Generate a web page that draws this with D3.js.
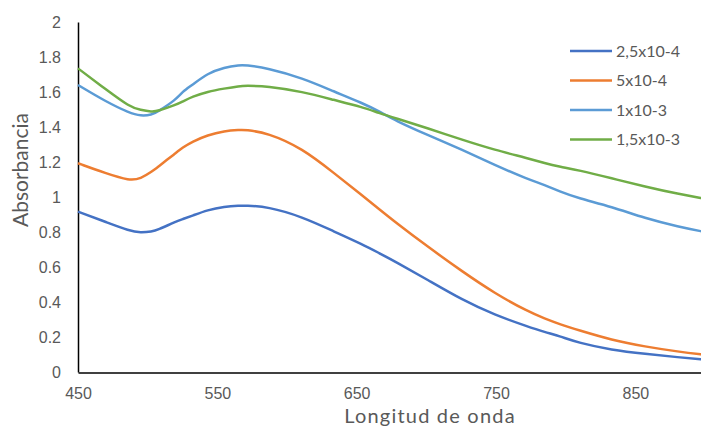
<!DOCTYPE html>
<html>
<head>
<meta charset="utf-8">
<script src="https://cdn.jsdelivr.net/npm/d3@7"></script>
<style>
    body { margin: 0; background: #fff; }
    svg { display: block; font-family: Lato, "Open Sans", sans-serif; }
    .tick text { fill: #595959; font-size: 16px; }
    .legendText { fill: #595959; font-size: 16px; }
    .axisTitle { fill: #595959; }
</style>
</head>
<body>
<svg id="chart" width="701" height="428"></svg>
<script>

// longitud de onda (nm)
const wavelengths = [450, 470, 487, 495, 503, 507, 520, 525, 532, 543, 555, 566, 570, 586, 611,
    634, 654, 666, 678, 701, 726, 749, 773, 785, 796, 809, 833, 857, 881, 900];

// absorbancia para cada concentracion
const abs25e5 = [0.916, 0.857, 0.806, 0.796, 0.803, 0.811, 0.859, 0.873, 0.893, 0.926, 0.945, 0.951, 0.951, 0.945, 0.887,
    0.802, 0.730, 0.680, 0.630, 0.526, 0.411, 0.326, 0.259, 0.228, 0.204, 0.167, 0.126, 0.103, 0.084, 0.071];
const abs5e4 = [1.193, 1.135, 1.093, 1.105, 1.145, 1.170, 1.250, 1.282, 1.316, 1.354, 1.377, 1.383, 1.384, 1.367, 1.278,
    1.135, 1.009, 0.932, 0.855, 0.716, 0.573, 0.450, 0.345, 0.305, 0.272, 0.240, 0.183, 0.145, 0.116, 0.098];
const abs1e3 = [1.640, 1.545, 1.480, 1.463, 1.470, 1.487, 1.554, 1.602, 1.640, 1.707, 1.741, 1.754, 1.754, 1.737, 1.680,
    1.602, 1.537, 1.490, 1.436, 1.354, 1.269, 1.183, 1.101, 1.069, 1.030, 0.993, 0.945, 0.878, 0.830, 0.800];
const abs15e3 = [1.735, 1.615, 1.515, 1.497, 1.487, 1.490, 1.526, 1.545, 1.573, 1.602, 1.620, 1.634, 1.636, 1.634, 1.602,
    1.554, 1.514, 1.480, 1.450, 1.393, 1.326, 1.269, 1.221, 1.193, 1.173, 1.154, 1.107, 1.059, 1.017, 0.990];

const seriesNames = ["2,5x10-4", "5x10-4", "1x10-3", "1,5x10-3"];
const seriesValues = [abs25e5, abs5e4, abs1e3, abs15e3];
const colors = ["#4472C4", "#ED7D31", "#5B9BD5", "#70AD47"];

const xTicks = [450, 550, 650, 750, 850];
const yTicks = [0, 0.2, 0.4, 0.6, 0.8, 1, 1.2, 1.4, 1.6, 1.8, 2];

let svg = d3.select("#chart");

let x = d3.scaleLinear().domain([450, 900]).range([78, 705]);
let y = d3.scaleLinear().domain([0, 2]).range([372, 22]);

// ejes
let yAxis = svg.append("g")
    .attr("transform", "translate(78,0)")
    .call(d3.axisLeft(y).tickValues(yTicks).tickFormat(d => String(d)).tickSize(0).tickPadding(17))
yAxis.select(".domain").attr("stroke", "#000").attr("stroke-width", 1.5)

let xAxis = svg.append("g")
    .attr("transform", "translate(0,372.5)")
    .call(d3.axisBottom(x).tickValues(xTicks).tickFormat(d => String(d)).tickSize(0).tickPadding(15))
xAxis.select(".domain").attr("stroke", "#000").attr("stroke-width", 1.5)

svg.selectAll(".tick text").attr("font-family", null).attr("font-size", null)

// curvas
let line = d3.line()
    .x(d => x(d[0]))
    .y(d => y(d[1]))
    .curve(d3.curveBasis)

svg.append("g")
    .selectAll("path")
    .data(seriesValues)
    .enter()
    .append("path")
    .attr("fill", "none")
    .attr("stroke", (d, i) => colors[i])
    .attr("stroke-width", 2.5)
    .attr("stroke-linejoin", "round")
    .attr("d", vals => line(vals.map((v, i) => [wavelengths[i], v])))

// leyenda
let legend = svg.append("g")
    .selectAll("g")
    .data(seriesNames)
    .enter()
    .append("g")
    .attr("transform", (d, i) => `translate(570,${51 + i * 29.5})`)

legend.append("line")
    .attr("x1", 0).attr("x2", 42)
    .attr("stroke", (d, i) => colors[i])
    .attr("stroke-width", 2.5)

legend.append("text")
    .attr("class", "legendText")
    .attr("x", 46)
    .attr("dy", "0.35em")
    .text(d => d)

// titulos
svg.append("text")
    .attr("class", "axisTitle")
    .attr("transform", "translate(28,170) rotate(-90)")
    .attr("text-anchor", "middle")
    .attr("font-size", 21)
    .text("Absorbancia")

svg.append("text")
    .attr("class", "axisTitle")
    .attr("x", 430)
    .attr("y", 423)
    .attr("text-anchor", "middle")
    .attr("font-size", 20)
    .attr("letter-spacing", 1.2)
    .text("Longitud de onda")

</script>
</body>
</html>
